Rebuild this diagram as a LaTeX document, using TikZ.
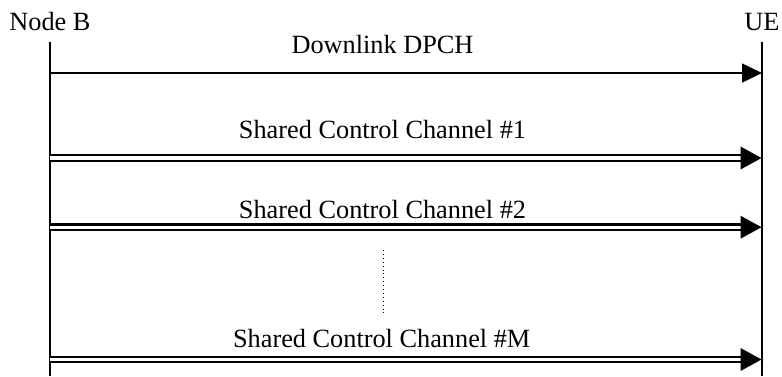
\documentclass[tikz,border=0pt]{standalone}
\usepackage{fontspec}
\setmainfont{Liberation Serif}
\usetikzlibrary{arrows.meta}
\begin{document}
\begin{tikzpicture}[x=1pt,y=-1pt,
  lbl/.style={inner sep=0pt,anchor=base,font=\fontsize{26.3}{31}\selectfont},
  lifeline/.style={line width=1.6pt},
  msg/.style={line width=1.6pt,-{Triangle[length=20pt,width=19pt]}},
  dmsg/.style={line width=2.3pt,double=white,double distance=3.2pt},
  dhead/.style={fill=black},
  dotline/.style={line width=1pt,dash pattern=on 1pt off 2.9pt}]
\useasboundingbox (0,0) rectangle (782,376);
% entities
\node[lbl] (nb) at (50,30.7) {Node B};
\node[lbl] (ue) at (762,30.7) {UE};
\coordinate (nbtop) at (50,42);
\coordinate (nbbot) at (50,376);
\coordinate (uetop) at (762,42);
\coordinate (uebot) at (762,376);
\draw[lifeline] (nbtop) -- (nbbot);
\draw[lifeline] (uetop) -- (uebot);
% Downlink DPCH
\coordinate (b0) at (50,73);
\coordinate (u0) at (762,73);
\draw[msg] (b0) -- (u0);
\node[lbl] (t0) at (382.5,53) {Downlink DPCH};
% Shared Control Channel #1
\coordinate (b1) at (50,158);
\coordinate (u1) at (761.5,158);
\draw[dmsg] (b1) -- ([xshift=-20pt]u1);
\fill[dhead] (u1) -- ++(-21,11.5) -- ++(0,-23) -- cycle;
\node[lbl] (t1) at (382.5,138.5) {Shared Control Channel \#1};
% Shared Control Channel #2
\coordinate (b2) at (50,227.2);
\coordinate (u2) at (761.5,227.2);
\draw[dmsg] (b2) -- ([xshift=-20pt]u2);
\fill[dhead] (u2) -- ++(-21,11.5) -- ++(0,-23) -- cycle;
\node[lbl] (t2) at (382.5,218.5) {Shared Control Channel \#2};
% dots
\coordinate (d1) at (383.3,250);
\coordinate (d2) at (383.3,313);
\draw[dotline] (d1) -- (d2);
% Shared Control Channel #M
\coordinate (bm) at (50,359.5);
\coordinate (um) at (761.5,359.5);
\draw[dmsg] (bm) -- ([xshift=-20pt]um);
\fill[dhead] (um) -- ++(-21,11.5) -- ++(0,-23) -- cycle;
\node[lbl] (tm) at (381.7,347.7) {Shared Control Channel \#M};
\end{tikzpicture}
\end{document}
